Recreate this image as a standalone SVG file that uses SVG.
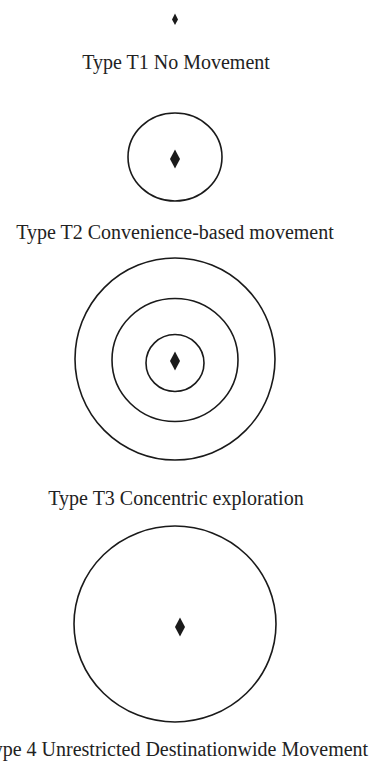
<svg xmlns="http://www.w3.org/2000/svg" width="372" height="764" viewBox="0 0 372 764">
<style>
.ring{fill:none;stroke:#1a1a1a;stroke-width:1.6}
.dm{fill:#1a1a1a}
.lbl{font-family:"Liberation Serif","Times New Roman",serif;font-size:20px;fill:#222;text-anchor:middle}
</style>
<rect width="372" height="764" fill="#fff"/>
<g id="t1">
<path class="dm" d="M175,13.5 L178,19.5 L175,25 L172,19.5 Z"/>
<text class="lbl" x="176" y="69">Type T1 No Movement</text>
</g>
<g id="t2">
<ellipse class="ring" cx="175" cy="157" rx="47" ry="44"/>
<path class="dm" d="M175,149.5 L180,159 L175,168.5 L170,159 Z"/>
<text class="lbl" x="175" y="239">Type T2 Convenience-based movement</text>
</g>
<g id="t3">
<ellipse class="ring" cx="175" cy="359" rx="100" ry="101"/>
<ellipse class="ring" cx="175" cy="360" rx="63" ry="61.5"/>
<ellipse class="ring" cx="175" cy="363" rx="29" ry="28.5"/>
<path class="dm" d="M175,351.5 L180,361 L175,370.5 L170,361 Z"/>
<text class="lbl" x="176" y="505">Type T3 Concentric exploration</text>
</g>
<g id="t4">
<ellipse class="ring" cx="175" cy="624" rx="101" ry="98"/>
<path class="dm" d="M180,617.5 L185,627 L180,636.5 L175,627 Z"/>
<text class="lbl" x="175" y="756">Type 4 Unrestricted Destinationwide Movement</text>
</g>
<g id="connectors"></g>
</svg>
